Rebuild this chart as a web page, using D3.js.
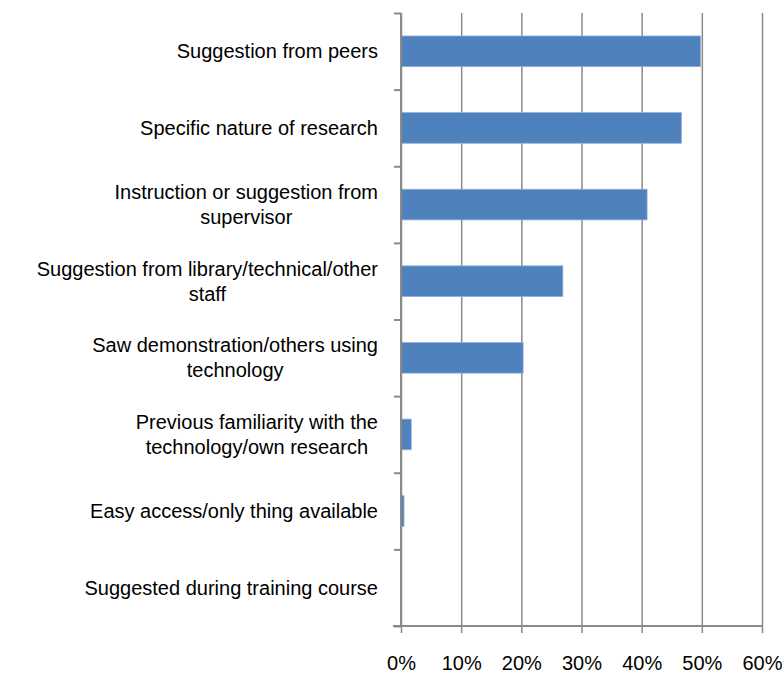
<!DOCTYPE html>
<html>
<head>
<meta charset="utf-8">
<script src="https://cdn.jsdelivr.net/npm/d3@7"></script>
<style>
  body { margin: 0; background: #fff; }
  text { font-family: "Liberation Sans", Arial, sans-serif; fill: #000; }
</style>
</head>
<body>
<div id="chart"></div>
<script>
// categories, top to bottom ("\n" marks the line break in the label)
var categories = [
  "Suggestion from peers",
  "Specific nature of research",
  "Instruction or suggestion from\nsupervisor",
  "Suggestion from library/technical/other\nstaff",
  "Saw demonstration/others using\ntechnology",
  "Previous familiarity with the\ntechnology/own research",
  "Easy access/only thing available",
  "Suggested during training course"
];
// percent of respondents
var values = [49.8, 46.6, 40.9, 26.9, 20.3, 1.7, 0.5, 0];
var xTicks = [0, 10, 20, 30, 40, 50, 60];

var margin = {top: 13, right: 22, bottom: 47, left: 401},
    width = 784 - margin.left - margin.right,
    height = 673 - margin.top - margin.bottom;

var svg = d3.select("#chart")
  .append("svg")
    .attr("width", 784)
    .attr("height", 673)
  .append("g")
    .attr("transform", "translate(" + margin.left + "," + margin.top + ")");

var x = d3.scaleLinear().domain([0, 60]).range([0, width]);
var y = d3.scaleBand()
  .domain(categories)
  .range([0, height])
  .paddingInner(0.6)
  .paddingOuter(0.3);

// vertical gridlines
var grid = svg.append("g")
  .call(d3.axisBottom(x).tickValues(xTicks).tickSize(height).tickFormat(""));
grid.select(".domain").remove();
grid.selectAll("line").attr("stroke", "#8a8a8a").attr("stroke-width", 1.5);

// bars
svg.append("g")
  .selectAll("rect")
  .data(values)
  .enter()
  .append("rect")
    .attr("x", x(0))
    .attr("y", function(d, i) { return y(categories[i]); })
    .attr("width", function(d) { return x(d); })
    .attr("height", y.bandwidth())
    .attr("fill", "#4f81bd")
    .attr("stroke", function(d) { return d > 0 ? "#8fb0dc" : "none"; })
    .attr("stroke-width", 0.8);

// bottom axis
var xAxis = svg.append("g")
  .attr("transform", "translate(0," + height + ")")
  .call(d3.axisBottom(x).tickValues(xTicks).tickSize(7).tickPadding(23)
    .tickFormat(function(d) { return d + "%"; }));
xAxis.select(".domain").attr("stroke", "#8a8a8a").attr("stroke-width", 2)
  .attr("d", "M-8,0H" + width);
xAxis.selectAll("line").attr("stroke", "#8a8a8a").attr("stroke-width", 1.5);
xAxis.selectAll("text").style("font-size", "20px").attr("fill", "#000");

// left axis, ticks at band boundaries
var yb = d3.scaleLinear().domain([0, categories.length]).range([0, height]);
var yAxis = svg.append("g")
  .call(d3.axisLeft(yb).ticks(categories.length).tickSize(7).tickFormat(""));
yAxis.select(".domain").attr("stroke", "#8a8a8a").attr("stroke-width", 2)
  .attr("d", "M0,0V" + height);
yAxis.selectAll("line").attr("stroke", "#8a8a8a").attr("stroke-width", 2);

// category labels: block right-aligned, lines centered inside it
var lineH = 25;
var labels = svg.append("g")
  .selectAll("g")
  .data(categories)
  .enter()
  .append("g");

labels.each(function(c) {
  var g = d3.select(this);
  var lines = c.split("\n");
  var cy = y(c) + y.bandwidth() / 2;
  var t = g.selectAll("text")
    .data(lines)
    .enter()
    .append("text")
      .style("font-size", "20px")
      .attr("text-anchor", "middle")
      .attr("dy", "0.35em")
      .attr("y", function(d, i) { return cy + (i - (lines.length - 1) / 2) * lineH; })
      .text(function(d) { return d; });
  var w = 0;
  t.each(function() { w = Math.max(w, this.getComputedTextLength()); });
  t.attr("x", -23 - w / 2);
});
</script>
</body>
</html>
